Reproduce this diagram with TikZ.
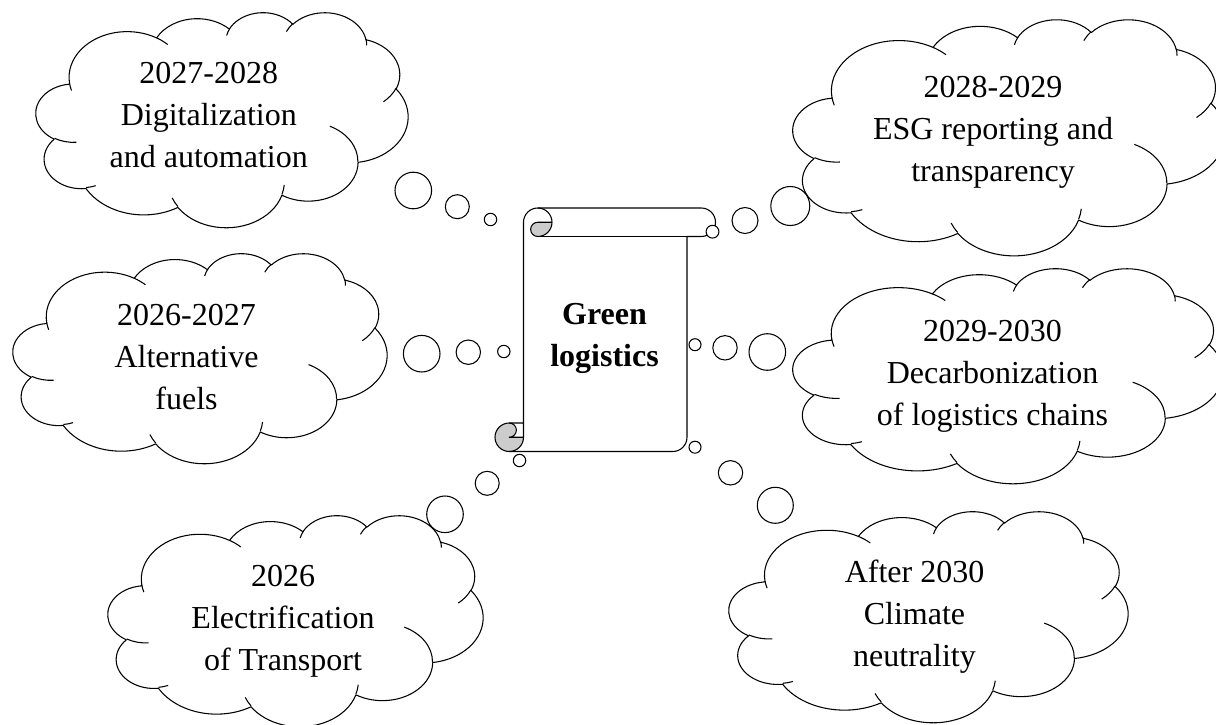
\documentclass[tikz,border=0pt]{standalone}
\usepackage{fontspec}
\setmainfont{Liberation Serif}
\newcommand\CA[4]{arc[start angle={pp(#3,#1,#2)}, end angle={pp(#3+#4,#1,#2)}, x radius=#1, y radius=#2]}
\newcommand\Ln[1]{\strut #1}
\newcommand\cloudshape[4]{%
  \pgfmathsetmacro\cwx{#3*0.75/43.2}%
  \pgfmathsetmacro\chy{#4*0.75/43.2}%
  \begin{scope}[shift={(#1,#2)}, x=\cwx pt, y=-\chy pt]
    \draw[cloudline] (3.900,14.370)
      \CA{6.753}{9.190}{-190.4875}{123.7805}
      \CA{5.333}{7.267}{-144.1024}{89.9452}
      \CA{4.365}{5.945}{-145.8079}{99.7230}
      \CA{4.857}{6.595}{-130.9861}{117.2417}
      \CA{5.333}{7.273}{-78.7089}{109.0269}
      \CA{6.775}{9.220}{-46.2739}{130.2690}
      \CA{5.785}{7.867}{0.6250}{114.0333}
      \CA{6.752}{9.215}{22.4516}{115.1726}
      \CA{7.720}{10.543}{66.2426}{75.7110}
      \CA{4.360}{5.918}{-274.9421}{146.7356}
      \CA{4.345}{5.945}{-246.8285}{152.5189}
      -- cycle;
    \draw[cloudline]
      (4.693,26.177) \CA{4.345}{5.945}{86.7420}{26.4295}
      (6.928,34.899) \CA{4.360}{5.918}{73.6105}{11.4475}
      (16.478,39.090) \CA{6.752}{9.215}{137.6242}{14.0811}
      (28.827,34.751) \CA{6.752}{9.215}{6.4533}{15.9984}
      (34.129,22.954) \CA{5.785}{7.867}{-70.2924}{70.9174}
      (41.798,15.354) \CA{5.333}{7.273}{30.3180}{27.7515}
      (38.324,5.426) \CA{4.857}{6.595}{-13.7443}{14.8589}
      (29.078,3.952) \CA{4.857}{6.595}{-149.1815}{18.1954}
      (22.141,4.720) \CA{4.365}{5.945}{-163.4943}{17.6864}
      (14.000,5.192) \CA{6.753}{9.190}{-66.7070}{12.3194}
      (4.127,15.789) \CA{6.753}{9.190}{157.6544}{11.8582};
  \end{scope}}
\tikzset{
  cloudline/.style={draw=black, line width=0.8pt, line join=round},
  scrollline/.style={draw=black, line width=0.8pt, line join=round},
  curlfill/.style={fill=black!20},
  bubble/.style={draw=black, fill=white, line width=0.8pt},
  cloudtext/.style={align=center, inner sep=0pt, font=\fontsize{24}{31.5}\selectfont},
  scrolltext/.style={align=center, inner sep=0pt, font=\fontsize{24}{31.5}\selectfont\bfseries},
}
\begin{document}
\begin{tikzpicture}[x=0.75pt, y=-0.75pt,
  declare function={pa(\t,\a,\b)=atan2(\a*sin(\t),\b*cos(\t));
                    pp(\t,\a,\b)=pa(\t,\a,\b)+360*round((\t-pa(\t,\a,\b))/360);}]
\path[use as bounding box, fill=white] (0,0) rectangle (1216,724);
\clip (0,0) rectangle (1216,724);

% clouds
\cloudshape{36}{12}{372}{215}
\cloudshape{13}{253}{374}{210}
\cloudshape{108}{515}{375}{211}
\cloudshape{793}{19}{432}{236}
\cloudshape{793}{268}{430}{215}
\cloudshape{729}{511}{399}{211}

% cloud texts
\node[cloudtext] (t2728) at (208.8,116.6) {\Ln{2027-2028}\\\Ln{Digitalization}\\\Ln{and automation}};
\node[cloudtext] (t2627) at (186.5,359.1) {\Ln{2026-2027}\\\Ln{Alternative}\\\Ln{fuels}};
\node[cloudtext] (t26) at (283,620.1) {\Ln{2026}\\\Ln{Electrification}\\\Ln{of Transport}};
\node[cloudtext] (t2829) at (993,131.1) {\Ln{2028-2029}\\\Ln{ESG reporting and}\\\Ln{transparency}};
\node[cloudtext] (t2930) at (992.5,375.1) {\Ln{2029-2030}\\\Ln{Decarbonization}\\\Ln{of logistics chains}};
\node[cloudtext] (t30) at (914.5,616.1) {\Ln{After 2030}\\\Ln{Climate}\\\Ln{neutrality}};

% scroll
\path[fill=white] (523.5,423) -- (523.5,222.25) arc[start angle=180, end angle=270, radius=14.25]
  -- (701.25,208) arc[start angle=270, end angle=450, radius=14.25]
  -- (687,236.5) -- (687,437.25) arc[start angle=0, end angle=90, radius=14.25]
  -- (509.25,451.5) arc[start angle=90, end angle=270, radius=14.25] -- cycle;
\path[curlfill] (552,222.25) arc[start angle=0, end angle=90, radius=14.25]
  arc[start angle=90, end angle=270, radius=7.125] -- cycle;
\path[curlfill] (523.5,437.25) arc[start angle=0, end angle=270, radius=14.25]
  arc[start angle=270, end angle=450, radius=7.125] -- cycle;
\draw[scrollline] (523.5,423) -- (523.5,222.25) arc[start angle=180, end angle=270, radius=14.25]
  -- (701.25,208) arc[start angle=270, end angle=450, radius=14.25]
  -- (687,236.5) -- (687,437.25) arc[start angle=0, end angle=90, radius=14.25]
  -- (509.25,451.5) arc[start angle=90, end angle=270, radius=14.25] -- cycle;
\draw[scrollline] (537.75,208) arc[start angle=270, end angle=450, radius=14.25]
  arc[start angle=90, end angle=270, radius=7.125] -- (552,222.25);
\draw[scrollline] (687,236.5) -- (537.75,236.5);
\draw[scrollline] (509.25,423) arc[start angle=270, end angle=450, radius=7.125] -- (523.5,437.25);
\draw[scrollline] (509.25,451.5) arc[start angle=90, end angle=0, radius=14.25] -- (523.5,423);
\node[scrolltext] (green) at (604.5,336.9) {\Ln{Green}\\\Ln{logistics}};

% thought bubbles
\draw[bubble] (413.3,190.5) circle[radius=18.3];
\draw[bubble] (457.3,206.7) circle[radius=12];
\draw[bubble] (490.5,219.5) circle[radius=6.2];

\draw[bubble] (712.5,231.7) circle[radius=6.4];
\draw[bubble] (745,220.5) circle[radius=13];
\draw[bubble] (790.3,206) circle[radius=19.5];

\draw[bubble] (421.7,353.7) circle[radius=18.3];
\draw[bubble] (468.3,352.2) circle[radius=12.2];
\draw[bubble] (503.8,351.5) circle[radius=6.2];

\draw[bubble] (695,344.7) circle[radius=6];
\draw[bubble] (725,347.8) circle[radius=12.2];
\draw[bubble] (767.3,352) circle[radius=18.3];

\draw[bubble] (519.5,460.5) circle[radius=6.2];
\draw[bubble] (487.2,483.3) circle[radius=12];
\draw[bubble] (445,514.3) circle[radius=18.3];

\draw[bubble] (695,447.2) circle[radius=6];
\draw[bubble] (730.5,472.8) circle[radius=12.2];
\draw[bubble] (775.3,505.3) circle[radius=18];
\end{tikzpicture}
\end{document}
